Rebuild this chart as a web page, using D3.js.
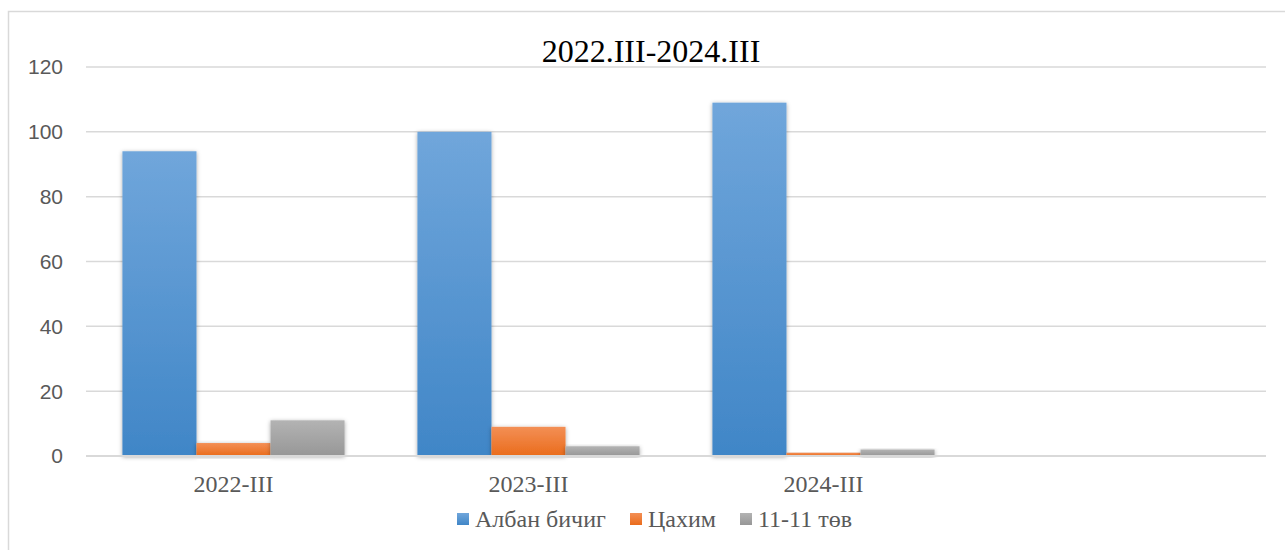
<!DOCTYPE html>
<html><head><meta charset="utf-8">
<script src="https://cdn.jsdelivr.net/npm/d3@7/dist/d3.min.js"></script>
<style>html,body{margin:0;padding:0;background:#fff;}svg{display:block;}</style>
</head><body>
<script>
const categories = ["2022-III", "2023-III", "2024-III", ""];
const seriesNames = ["Албан бичиг", "Цахим", "11-11 төв"];
const albanBichig = [94, 100, 109, null];
const tsakhim = [4, 9, 1, null];
const tuv1111 = [11, 3, 2, null];
const yTicks = [0, 20, 40, 60, 80, 100, 120];
const title = "2022.III-2024.III";

(function () {
const W = 1285, H = 550;
const svg = d3.select("body").append("svg").attr("width", W).attr("height", H);
const defs = svg.append("defs");
const grads = [["#70a6db", "#4086c7"], ["#f38f55", "#ea6c1c"], ["#b3b3b3", "#979797"]];
grads.forEach((g, i) => {
  const lg = defs.append("linearGradient").attr("id", "g" + i).attr("x1", 0).attr("y1", 0).attr("x2", 0).attr("y2", 1);
  lg.append("stop").attr("offset", "0%").attr("stop-color", g[0]);
  lg.append("stop").attr("offset", "100%").attr("stop-color", g[1]);
});
const f = defs.append("filter").attr("id", "sh").attr("x", "-20%").attr("y", "-20%").attr("width", "140%").attr("height", "140%");
f.append("feDropShadow").attr("dx", 0).attr("dy", 1).attr("stdDeviation", 2.2).attr("flood-color", "#000").attr("flood-opacity", 0.35);

// chart border
svg.append("rect").attr("x", 8.5).attr("y", 11.5).attr("width", W + 10).attr("height", H + 10)
  .attr("fill", "none").attr("stroke", "#d9d9d9").attr("stroke-width", 1.5);

const pLeft = 86, pRight = 1266, pTop = 67, pBottom = 456;
const y = d3.scaleLinear().domain([0, 120]).range([pBottom, pTop]);
const x0 = d3.scaleBand().domain(categories).range([pLeft, pRight]).paddingInner(0.247).paddingOuter(0.1235);
const x1 = d3.scaleBand().domain(seriesNames).range([0, x0.bandwidth()]);

// gridlines
svg.append("g").selectAll("line").data(yTicks.filter(t => t > 0)).join("line")
  .attr("x1", pLeft).attr("x2", pRight).attr("y1", d => y(d)).attr("y2", d => y(d))
  .attr("stroke", "#d9d9d9").attr("stroke-width", 1.5);

// y labels
svg.append("g").selectAll("text").data(yTicks).join("text")
  .attr("x", 63).attr("y", d => y(d)).attr("dy", "0.35em").attr("text-anchor", "end")
  .attr("font-family", "Liberation Sans, Arial, sans-serif").attr("font-size", 21).attr("fill", "#595959")
  .text(d => d);

// bars
const data = [albanBichig, tsakhim, tuv1111];
data.forEach((vals, si) => {
  svg.append("g").selectAll("rect").data(categories.map((c, i) => ({c, v: vals[i]})).filter(d => d.v != null)).join("rect")
    .attr("x", d => x0(d.c) + x1(seriesNames[si]))
    .attr("y", d => y(d.v))
    .attr("width", x1.bandwidth())
    .attr("height", d => y(0) - y(d.v))
    .attr("fill", `url(#g${si})`)
    .attr("filter", "url(#sh)");
});

// baseline
svg.append("line").attr("x1", pLeft).attr("x2", pRight).attr("y1", y(0)).attr("y2", y(0))
  .attr("stroke", "#d9d9d9").attr("stroke-width", 2);

// x labels
svg.append("g").selectAll("text").data(categories).join("text")
  .attr("x", d => x0(d) + x0.bandwidth() / 2).attr("y", 492)
  .attr("text-anchor", "middle")
  .attr("font-family", "'Liberation Serif', 'Times New Roman', serif").attr("font-size", 24).attr("fill", "#595959")
  .text(d => d);

// title
svg.append("text").attr("x", 651).attr("y", 62).attr("text-anchor", "middle")
  .attr("font-family", "'Liberation Serif', 'Times New Roman', serif").attr("font-size", 32).attr("fill", "#000")
  .text(title);

// legend
const legX = [457, 630, 740];
const lg = svg.append("g");
seriesNames.forEach((s, i) => {
  lg.append("rect").attr("x", legX[i]).attr("y", 513).attr("width", 12).attr("height", 12).attr("fill", `url(#g${i})`);
  lg.append("text").attr("x", legX[i] + 18).attr("y", 527)
    .attr("font-family", "'Liberation Serif', 'Times New Roman', serif").attr("font-size", 24).attr("fill", "#595959")
    .text(s);
});
})();
</script>
</body></html>
